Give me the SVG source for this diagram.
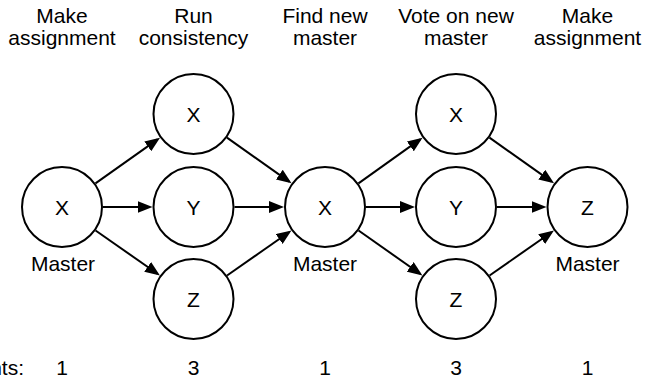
<svg xmlns="http://www.w3.org/2000/svg" width="645" height="385" viewBox="0 0 645 385">
<style>
text{font-family:"Liberation Sans",Arial,Helvetica,sans-serif;font-size:21px;fill:#000;text-anchor:middle}
.node circle{fill:#fff;stroke:#000;stroke-width:2}
#connectors line{stroke:#000;stroke-width:2;marker-end:url(#arrow)}
</style>
<defs>
<marker id="arrow" viewBox="0 0 15 12" markerWidth="15" markerHeight="12" markerUnits="userSpaceOnUse" refX="12" refY="6" orient="auto">
<path d="M0,0 L15,6 L0,12 z" fill="#000"/>
</marker>
</defs>
<rect width="645" height="385" fill="#fff"/>
<g id="headers">
<text x="62" y="23">Make</text><text x="62" y="45">assignment</text>
<text x="193.5" y="23">Run</text><text x="193.5" y="45">consistency</text>
<text x="325" y="23">Find new</text><text x="325" y="45">master</text>
<text x="456" y="23">Vote on new</text><text x="456" y="45">master</text>
<text x="587.5" y="23">Make</text><text x="587.5" y="45">assignment</text>
</g>
<g id="connectors">
<line x1="95.47" y1="183.33" x2="157.58" y2="139.41"/>
<line x1="103" y1="207" x2="149.5" y2="207"/>
<line x1="95.57" y1="230.49" x2="157.47" y2="273.79"/>
<line x1="226.97" y1="137.67" x2="289.08" y2="181.59"/>
<line x1="234.5" y1="207" x2="281" y2="207"/>
<line x1="227.07" y1="275.51" x2="288.97" y2="232.21"/>
<line x1="358.47" y1="183.33" x2="420.08" y2="139.41"/>
<line x1="366" y1="207" x2="412" y2="207"/>
<line x1="358.57" y1="230.49" x2="419.97" y2="273.79"/>
<line x1="489.47" y1="137.67" x2="551.58" y2="181.59"/>
<line x1="497" y1="207" x2="543.5" y2="207"/>
<line x1="489.57" y1="275.51" x2="551.47" y2="232.21"/>
</g>
<g id="master1" class="node"><circle cx="62" cy="207" r="40"/><text x="62" y="214.5">X</text><text x="63" y="271">Master</text></g>
<g id="x1" class="node"><circle cx="193.5" cy="114" r="40"/><text x="193.5" y="121.5">X</text></g>
<g id="y1" class="node"><circle cx="193.5" cy="207" r="40"/><text x="193.5" y="214.5">Y</text></g>
<g id="z1" class="node"><circle cx="193.5" cy="299" r="40"/><text x="193.5" y="306.5">Z</text></g>
<g id="master2" class="node"><circle cx="325" cy="207" r="40"/><text x="325" y="214.5">X</text><text x="325" y="271">Master</text></g>
<g id="x2" class="node"><circle cx="456" cy="114" r="40"/><text x="456" y="121.5">X</text></g>
<g id="y2" class="node"><circle cx="456" cy="207" r="40"/><text x="456" y="214.5">Y</text></g>
<g id="z2" class="node"><circle cx="456" cy="299" r="40"/><text x="456" y="306.5">Z</text></g>
<g id="master3" class="node"><circle cx="587.5" cy="207" r="40"/><text x="587.5" y="214.5">Z</text><text x="587.5" y="271">Master</text></g>
<g id="counts">
<text x="24" y="375" style="text-anchor:end">nts:</text>
<text x="62" y="375">1</text>
<text x="193.5" y="375">3</text>
<text x="325" y="375">1</text>
<text x="456" y="375">3</text>
<text x="587.5" y="375">1</text>
</g>
</svg>
